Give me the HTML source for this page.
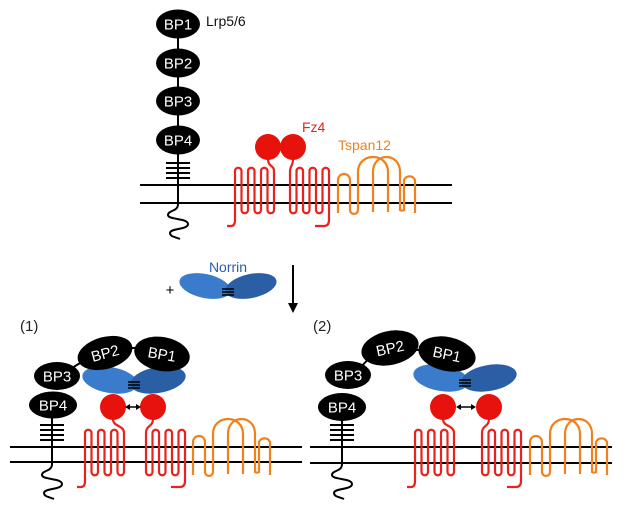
<!DOCTYPE html>
<html><head><meta charset="utf-8"><style>
html,body{margin:0;padding:0;background:#fff;}
svg{display:block;font-family:"Liberation Sans",sans-serif;}
.bp{fill:#000;}
.bt{fill:#fff;font-size:15px;text-anchor:middle;dominant-baseline:central;}
.mem{stroke:#000;stroke-width:2;}
.red{fill:none;stroke:#e8221c;stroke-width:2.2;}
.org{fill:none;stroke:#f0821e;stroke-width:2.2;}
.blk{fill:none;stroke:#000;stroke-width:2;}
</style></head><body>
<svg id="s" width="631" height="513" viewBox="0 0 631 513" xmlns="http://www.w3.org/2000/svg">
<line class="mem" x1="140" y1="185" x2="452" y2="185"/>
<line class="mem" x1="140" y1="203" x2="452" y2="203"/>
<line class="blk" x1="178" y1="20" x2="178" y2="205"/>
<g class="blk"><line x1="166" y1="163" x2="190" y2="163"/><line x1="166" y1="168" x2="190" y2="168"/><line x1="166" y1="173" x2="190" y2="173"/><line x1="166" y1="178" x2="190" y2="178"/></g>
<path class="blk" d="M178,204 C178,212 168,210 168,215 C168,220 188,218 188,224 C188,230 170,228 170,233 C170,237 176,237 180,239"/>
<ellipse class="bp" cx="178" cy="24" rx="22" ry="14.5"/><text class="bt" x="178" y="25">BP1</text>
<ellipse class="bp" cx="178" cy="63" rx="22" ry="14.5"/><text class="bt" x="178" y="64">BP2</text>
<ellipse class="bp" cx="178" cy="101" rx="22" ry="14.5"/><text class="bt" x="178" y="102">BP3</text>
<ellipse class="bp" cx="178" cy="140" rx="22" ry="14.5"/><text class="bt" x="178" y="141">BP4</text>
<text x="206" y="26" font-size="14" fill="#111">Lrp5/6</text>
<text x="302" y="132" font-size="14" fill="#e8221c">Fz4</text>
<text x="338" y="150" font-size="14" fill="#f0821e">Tspan12</text>
<g id="g0"></g>

<text x="170" y="295" font-size="15" fill="#000" text-anchor="middle">+</text>
<text x="228" y="272" font-size="14" fill="#2a5fa6" text-anchor="middle">Norrin</text>
<ellipse cx="205" cy="286" rx="26" ry="12" fill="#3a7bcc" transform="rotate(12 205 286)"/>
<ellipse cx="251" cy="286" rx="26" ry="12" fill="#2a5fa6" transform="rotate(-12 251 286)"/>
<g class="blk" style="stroke-width:1.5"><line x1="222" y1="289" x2="234" y2="289"/><line x1="222" y1="292" x2="234" y2="292"/><line x1="222" y1="295" x2="234" y2="295"/></g>
<line class="blk" x1="293" y1="265" x2="293" y2="305"/>
<path d="M288,303 L293,313 L298,303 Z" fill="#000"/>

<text x="20" y="331" font-size="15" fill="#222">(1)</text>
<text x="313" y="331" font-size="15" fill="#222">(2)</text>

<line class="mem" x1="10" y1="447" x2="302" y2="447"/>
<line class="mem" x1="10" y1="462" x2="302" y2="462"/>
<line class="mem" x1="310" y1="447" x2="612" y2="447"/>
<line class="mem" x1="310" y1="463" x2="612" y2="463"/>
<g id="g1"></g>
<g id="g2"></g>
</svg>
<script>
var NS="http://www.w3.org/2000/svg";
function el(g,tag,attrs,txt){var e=document.createElementNS(NS,tag);for(var k in attrs)e.setAttribute(k,attrs[k]);if(txt)e.textContent=txt;g.appendChild(e);return e;}
function fz(g,x0,top,bot,tail,c1x,c2x,cy,w0){
  var s=6.5,v=[];for(var i=0;i<7;i++)v.push(x0+8+i*s);
  var d="M"+x0+","+tail+" L"+(v[0]-4)+","+tail+" Q"+v[0]+","+tail+" "+v[0]+","+(tail-6)+" L"+v[0]+","+(top+3);
  for(var i=0;i<6;i++){var up=(i%2==0);var b=v[i+1],r=s/2;
    if(up){d+=" A"+r+","+r+" 0 0 1 "+b+","+(top+3)+" L"+b+","+(bot-3);}
    else{d+=" A"+r+","+r+" 0 0 0 "+b+","+(bot-3)+" L"+b+","+(top+3);}}
  d+=" C"+v[6]+","+(cy+18)+" "+c1x+","+(cy+20)+" "+c1x+","+(cy+12);
  el(g,"path",{"class":"red",d:d});
  var w=[];for(var i=0;i<7;i++)w.push(w0+i*s);
  var d2="M"+c2x+","+(cy+12)+" C"+c2x+","+(cy+20)+" "+w[0]+","+(cy+18)+" "+w[0]+","+(top+3)+" L"+w[0]+","+(bot-3);
  for(var i=0;i<6;i++){var down=(i%2==0);var b=w[i+1],r=s/2;
    if(down){d2+=" A"+r+","+r+" 0 0 0 "+b+","+(bot-3)+" L"+b+","+(top+3);}
    else{d2+=" A"+r+","+r+" 0 0 1 "+b+","+(top+3)+" L"+b+","+(bot-3);}}
  d2+=" L"+w[6]+","+(tail-6)+" Q"+w[6]+","+tail+" "+(w[6]-5)+","+tail+" L"+(w[6]-14)+","+tail;
  el(g,"path",{"class":"red",d:d2});
  el(g,"circle",{cx:c1x,cy:cy,r:13,fill:"#e8120c"});
  el(g,"circle",{cx:c2x,cy:cy,r:13,fill:"#e8120c"});
}
function ts(g,ox,dy){
  function Y(y){return y+dy;}
  var d="M"+ox+","+Y(213)+" V"+Y(180)+" A6,6 0 0 1 "+(ox+12)+","+Y(180)+" V"+Y(210)+" A4,4 0 0 0 "+(ox+20)+","+Y(210)+" V"+Y(172)+" C"+(ox+20)+","+Y(152)+" "+(ox+50)+","+Y(152)+" "+(ox+50)+","+Y(172)+" V"+Y(212);
  el(g,"path",{"class":"org",d:d});
  var d2="M"+(ox+35)+","+Y(212)+" V"+Y(172)+" C"+(ox+35)+","+Y(152)+" "+(ox+62)+","+Y(152)+" "+(ox+62)+","+Y(172)+" V"+Y(210)+" A4,4 0 0 0 "+(ox+66)+","+Y(210)+" V"+Y(180)+" A6,6 0 0 1 "+(ox+77)+","+Y(180)+" V"+Y(213);
  el(g,"path",{"class":"org",d:d2});
}
function lrp(g,x){
  el(g,"line",{"class":"blk",x1:x,y1:400,x2:x,y2:465});
  for(var i=0;i<4;i++)el(g,"line",{"class":"blk",x1:x-12,y1:425+i*5,x2:x+12,y2:425+i*5});
  var d="M"+x+",464 C"+x+",472 "+(x-10)+",470 "+(x-10)+",475 C"+(x-10)+",480 "+(x+10)+",478 "+(x+10)+",484 C"+(x+10)+",490 "+(x-8)+",488 "+(x-8)+",493 C"+(x-8)+",497 "+(x-2)+",497 "+(x+2)+",499";
  el(g,"path",{"class":"blk",d:d});
}
function bp(g,cx,cy,rx,ry,rot,t){
  el(g,"ellipse",{"class":"bp",cx:cx,cy:cy,rx:rx,ry:ry,transform:"rotate("+rot+" "+cx+" "+cy+")"});
  el(g,"text",{"class":"bt",x:cx,y:cy+1,transform:"rotate("+rot+" "+cx+" "+cy+")"},t);
}
function norr(g,cx,cy){
  el(g,"ellipse",{cx:cx-24,cy:cy,rx:28,ry:13,fill:"#3a7bcc",transform:"rotate(10 "+(cx-24)+" "+cy+")"});
  el(g,"ellipse",{cx:cx+24,cy:cy,rx:28,ry:13,fill:"#2a5fa6",transform:"rotate(-10 "+(cx+24)+" "+cy+")"});
  for(var i=0;i<3;i++)el(g,"line",{"class":"blk",x1:cx-6,y1:cy+2+i*3,x2:cx+6,y2:cy+2+i*3,style:"stroke-width:1.5"});
}
function arr(g,x1,x2,y){
  el(g,"line",{"class":"blk",x1:x1+3,y1:y,x2:x2-3,y2:y,style:"stroke-width:1.5"});
  el(g,"path",{d:"M"+x1+","+y+" l5,-3 v6 z M"+x2+","+y+" l-5,-3 v6 z",fill:"#000"});
}
var g0=document.getElementById("g0"),g1=document.getElementById("g1"),g2=document.getElementById("g2");
fz(g0,227,168,213,226,268,293,147,290);
ts(g0,338,0);
lrp(g1,52);
fz(g1,77,430,475,487,113,153,407,146);
ts(g1,193,262);
norr(g1,134,380);
arr(g1,125,141,407);
el(g1,"line",{"class":"blk",x1:72,y1:368,x2:85,y2:360});
el(g1,"line",{"class":"blk",x1:120,y1:348,x2:140,y2:348});
bp(g1,105,353,28,16,-15,"BP2");
bp(g1,162,354,28,17,10,"BP1");
bp(g1,57,376,23,14,0,"BP3");
bp(g1,53,405,24,13.5,0,"BP4");
lrp(g2,342);
fz(g2,407,430,475,487,443,489,407,482);
ts(g2,530,262);
norr(g2,465,378);
arr(g2,456,476,407);
el(g2,"line",{"class":"blk",x1:360,y1:368,x2:372,y2:355});
el(g2,"line",{"class":"blk",x1:410,y1:350,x2:425,y2:350});
bp(g2,390,348,29,17,-12,"BP2");
bp(g2,447,354,29,17,12,"BP1");
bp(g2,348,375,23,14,0,"BP3");
bp(g2,342,407,24,14,0,"BP4");
</script>
</body></html>
